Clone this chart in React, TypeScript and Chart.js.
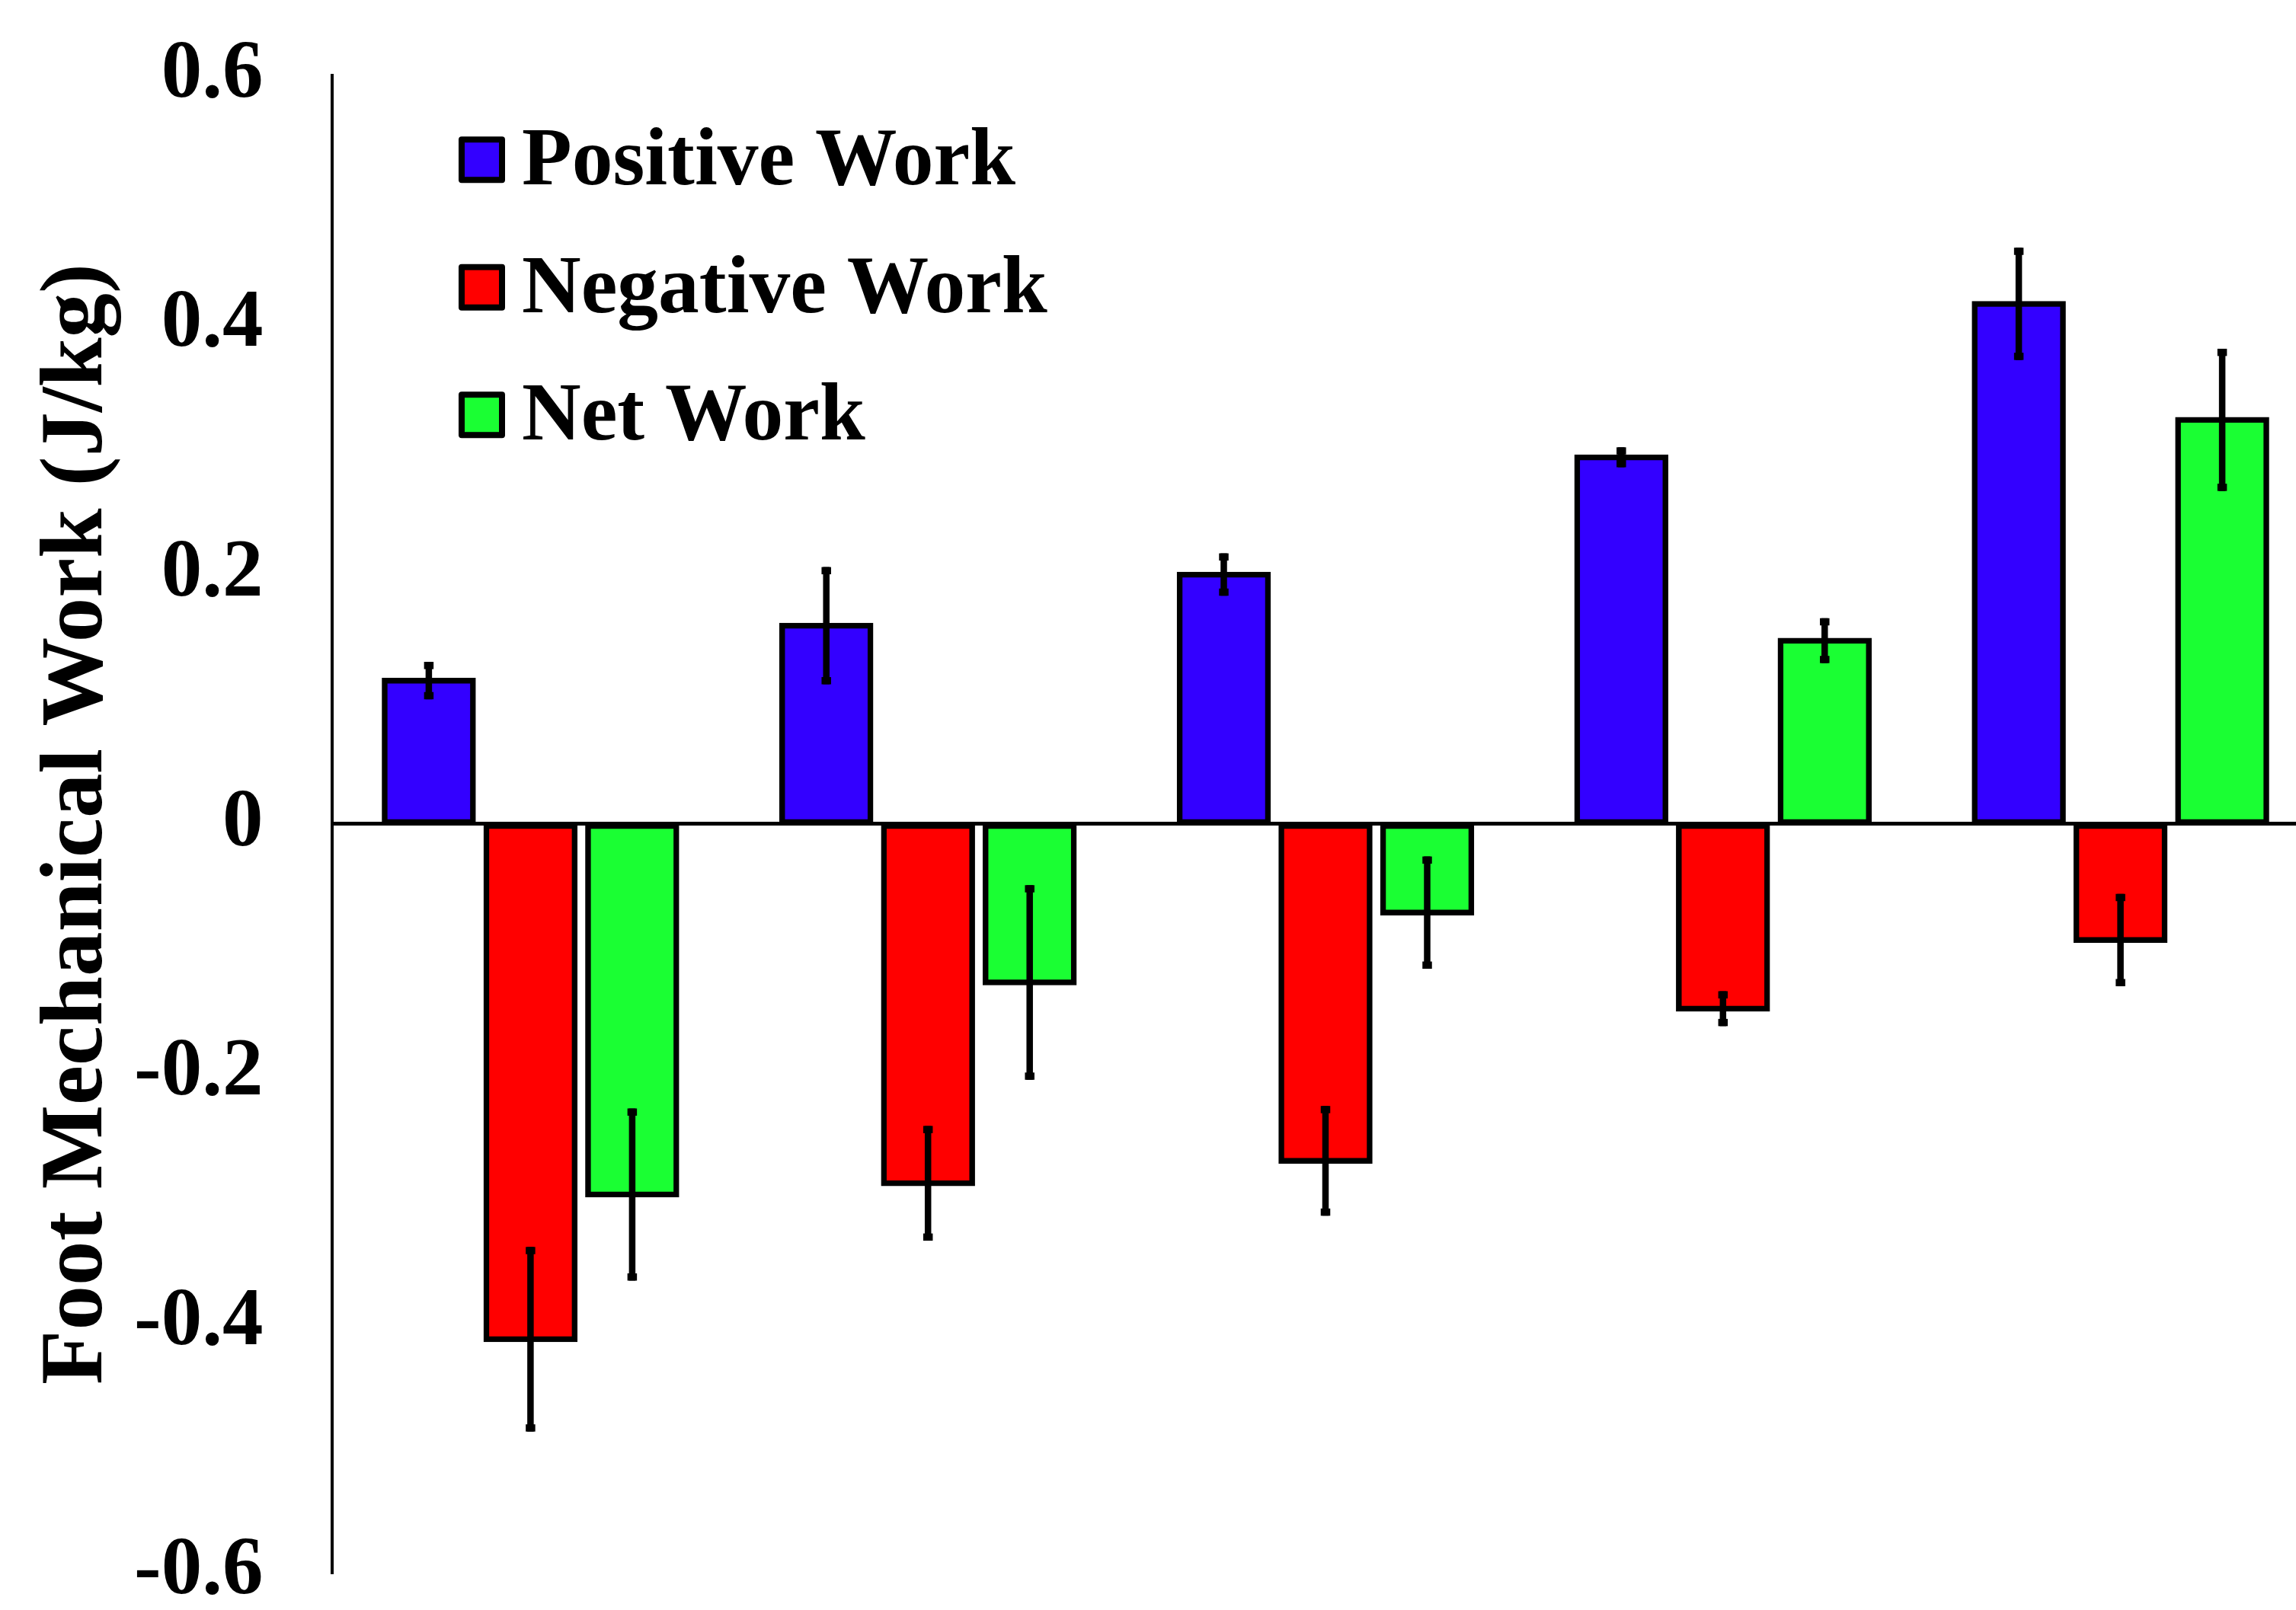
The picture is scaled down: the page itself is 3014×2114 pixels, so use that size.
import React, { useEffect, useRef } from 'react';
import { Chart, registerables } from 'chart.js';

Chart.register(...registerables);

// ---- Data ----
const CATEGORIES = ['Condition 1', 'Condition 2', 'Condition 3', 'Condition 4', 'Condition 5'];
const SERIES_LABELS = ['Positive Work', 'Negative Work', 'Net Work'];
const SERIES_COLORS = ['#3300FF', '#FF0000', '#1AFF33'];

const POSITIVE_WORK = [0.115, 0.159, 0.2, 0.294, 0.417];
const POSITIVE_ERR = [0.015, 0.047, 0.017, 0.008, 0.045];

const NEGATIVE_WORK = [-0.413, -0.288, -0.27, -0.148, -0.093];
const NEGATIVE_ERR = [0.074, 0.046, 0.044, 0.014, 0.037];

const NET_WORK = [-0.297, -0.127, -0.071, 0.147, 0.324];
const NET_ERR = [0.069, 0.078, 0.045, 0.018, 0.057];

const Y_TICKS = [-0.6, -0.4, -0.2, 0, 0.2, 0.4, 0.6];
const Y_TICK_LABELS = ['-0.6', '-0.4', '-0.2', '0', '0.2', '0.4', '0.6'];
const Y_TITLE = 'Foot Mechanical Work (J/kg)';

const FONT_FAMILY = "'Liberation Serif', 'Times New Roman', Times, serif";

const errorBarPlugin = {
  id: 'errorBars',
  afterDatasetsDraw(chart: any) {
    const { ctx } = chart;
    const yScale = chart.scales.y;
    chart.data.datasets.forEach((ds: any, i: number) => {
      const meta = chart.getDatasetMeta(i);
      meta.data.forEach((el: any, j: number) => {
        const v = ds.data[j];
        const e = ds.errors[j];
        const yTop = yScale.getPixelForValue(v + e);
        const yBot = yScale.getPixelForValue(v - e);
        ctx.save();
        ctx.strokeStyle = '#000';
        ctx.fillStyle = '#000';
        ctx.lineWidth = 8.5;
        ctx.lineCap = 'butt';
        ctx.beginPath();
        ctx.moveTo(el.x, yTop);
        ctx.lineTo(el.x, yBot);
        ctx.stroke();
        ctx.fillRect(el.x - 6.25, yTop, 12.5, 9.5);
        ctx.fillRect(el.x - 6.25, yBot - 9.5, 12.5, 9.5);
        ctx.restore();
      });
    });
  },
};

const legendPlugin = {
  id: 'insideLegend',
  afterDraw(chart: any) {
    const { ctx, chartArea } = chart;
    const boxLeft = chartArea.left + 166.5;
    const boxTop0 = chartArea.top + 80;
    const rowGap = 167.5;
    const boxSize = 61;
    const bw = 8;
    chart.data.datasets.forEach((ds: any, i: number) => {
      const top = boxTop0 + i * rowGap;
      ctx.save();
      ctx.fillStyle = '#000';
      ctx.beginPath();
      if ((ctx as any).roundRect) {
        (ctx as any).roundRect(boxLeft, top, boxSize, boxSize, 4);
      } else {
        ctx.rect(boxLeft, top, boxSize, boxSize);
      }
      ctx.fill();
      ctx.fillStyle = ds.backgroundColor;
      ctx.fillRect(boxLeft + bw, top + bw, boxSize - 2 * bw, boxSize - 2 * bw);
      ctx.fillStyle = '#000';
      ctx.font = `bold 107.5px ${FONT_FAMILY}`;
      ctx.textBaseline = 'alphabetic';
      ctx.textAlign = 'left';
      ctx.fillText(ds.label, boxLeft + 83, top + 63);
      ctx.restore();
    });
  },
};

export default function App() {
  const canvasRef = useRef<HTMLCanvasElement | null>(null);

  useEffect(() => {
    const canvas = canvasRef.current;
    if (!canvas) return;
    Chart.defaults.font.family = FONT_FAMILY;

    const values = [POSITIVE_WORK, NEGATIVE_WORK, NET_WORK];
    const errors = [POSITIVE_ERR, NEGATIVE_ERR, NET_ERR];

    const chart = new Chart(canvas, {
      type: 'bar',
      data: {
        labels: CATEGORIES,
        datasets: SERIES_LABELS.map((label, i) => ({
          label,
          data: values[i],
          errors: errors[i],
          backgroundColor: SERIES_COLORS[i],
          borderColor: '#000',
          borderWidth: 7.5,
          borderSkipped: false,
          inflateAmount: 3.75,
          categoryPercentage: 0.7675,
          barPercentage: 0.869,
        })) as any,
      },
      options: {
        animation: false,
        responsive: false,
        devicePixelRatio: 1,
        layout: { padding: { left: 33, right: 15.5, top: 0, bottom: 0 } },
        plugins: {
          legend: { display: false },
          tooltip: { enabled: false },
          title: { display: false },
        },
        scales: {
          x: {
            type: 'category',
            display: false,
            offset: true,
            grid: { display: false },
            ticks: { display: false },
          },
          y: {
            type: 'linear',
            min: -0.6,
            max: 0.6,
            afterBuildTicks: (scale: any) => {
              scale.ticks = Y_TICKS.map((v) => ({ value: v }));
            },
            afterFit: (scale: any) => {
              scale.width = 402.5;
            },
            ticks: {
              padding: 90,
              color: '#000',
              font: { size: 107, weight: 'bold', family: FONT_FAMILY, lineHeight: 1.2 },
              callback: (_v: any, index: number) => Y_TICK_LABELS[index],
            },
            grid: {
              display: true,
              drawTicks: false,
              drawOnChartArea: true,
              color: (c: any) => (c.tick && c.tick.value === 0 ? '#000' : 'rgba(0,0,0,0)'),
              lineWidth: 5,
            },
            border: { display: true, color: '#000', width: 4 },
            title: {
              display: true,
              text: Y_TITLE,
              color: '#000',
              padding: 0,
              font: { size: 117, weight: 'bold', family: FONT_FAMILY, lineHeight: 1.2 },
            },
          },
        },
      } as any,
      plugins: [errorBarPlugin, legendPlugin],
    });

    return () => {
      chart.destroy();
    };
  }, []);

  return (
    <div
      style={{
        position: 'fixed',
        left: 0,
        top: 0,
        width: '3014px',
        height: '2114px',
        overflow: 'hidden',
        background: '#fff',
      }}
    >
      <canvas
        ref={canvasRef}
        width={3060}
        height={2274}
        style={{
          position: 'absolute',
          left: 0,
          top: '-55px',
          display: 'block',
          width: '3060px',
          height: '2274px',
        }}
      />
    </div>
  );
}
